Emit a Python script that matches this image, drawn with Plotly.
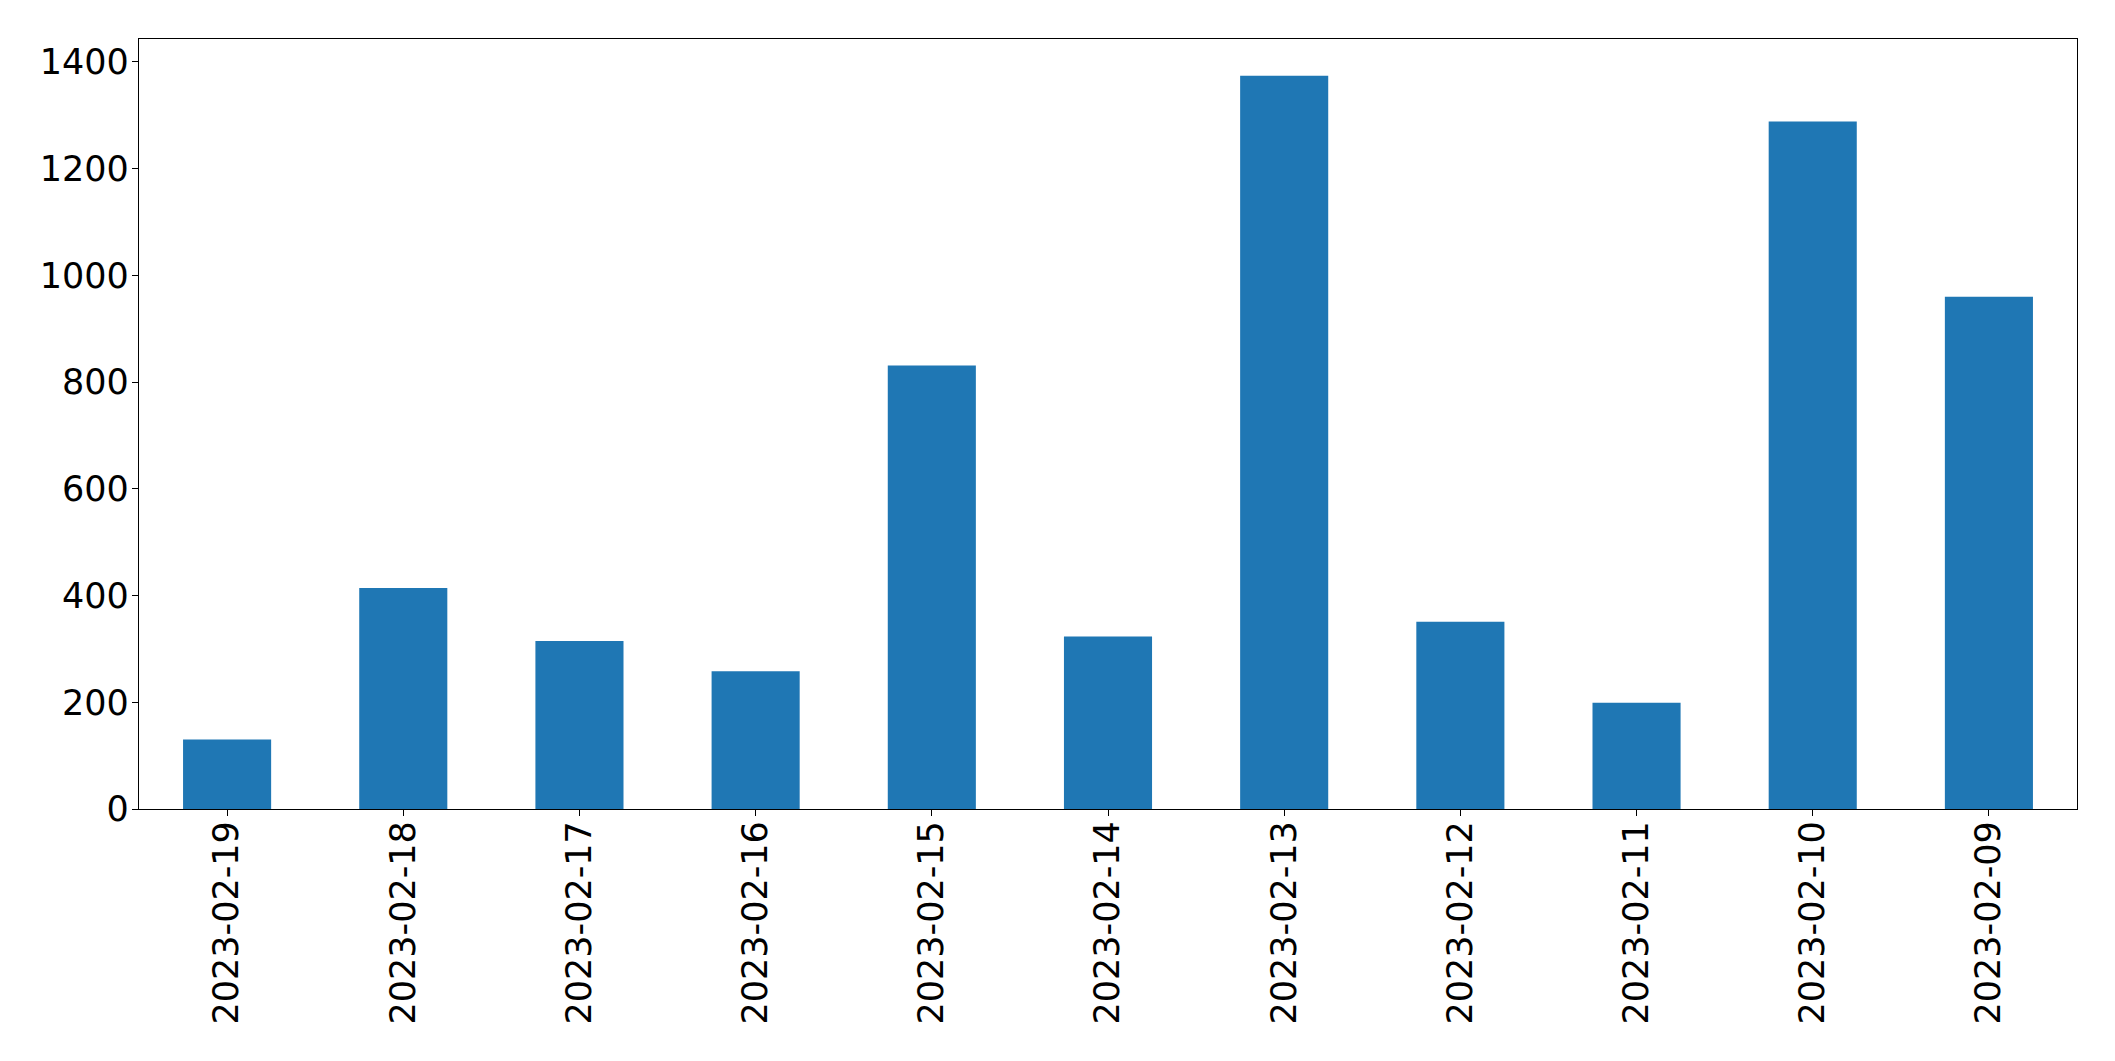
import plotly.graph_objects as go

dates = ["2023-02-19", "2023-02-18", "2023-02-17", "2023-02-16", "2023-02-15",
         "2023-02-14", "2023-02-13", "2023-02-12", "2023-02-11", "2023-02-10",
         "2023-02-09"]
counts = [130, 414, 315, 258, 831, 323, 1374, 351, 199, 1288, 960]
y_ticks = [0, 200, 400, 600, 800, 1000, 1200, 1400]

fig = go.Figure(go.Bar(
    x=dates, y=counts, width=0.5,
    marker=dict(color="#1f77b4", line=dict(width=0)),
))

fig.update_layout(
    width=2099, height=1045,
    margin=dict(l=130.5, r=30.3, t=31.3, b=243.7, autoexpand=False),
    paper_bgcolor="white", plot_bgcolor="white",
    font=dict(family="DejaVu Sans", size=35, color="black"),
    showlegend=False,
    bargap=0.5,
)
fig.update_xaxes(
    type="category", range=[-0.5, 10.5],
    tickangle=-90, ticks="outside", ticklen=6, tickwidth=1.3, tickcolor="black",
    showline=True, linecolor="black", linewidth=1.3, mirror=True,
    showgrid=False, zeroline=False, ticklabelstandoff=-9,
)
fig.update_yaxes(
    range=[0, max(counts) * 1.05], tickvals=y_ticks,
    ticks="outside", ticklen=6, tickwidth=1.3, tickcolor="black",
    showline=True, linecolor="black", linewidth=1.3, mirror=True,
    showgrid=False, zeroline=False, ticklabelstandoff=-4,
)

fig.write_html("out.html")
